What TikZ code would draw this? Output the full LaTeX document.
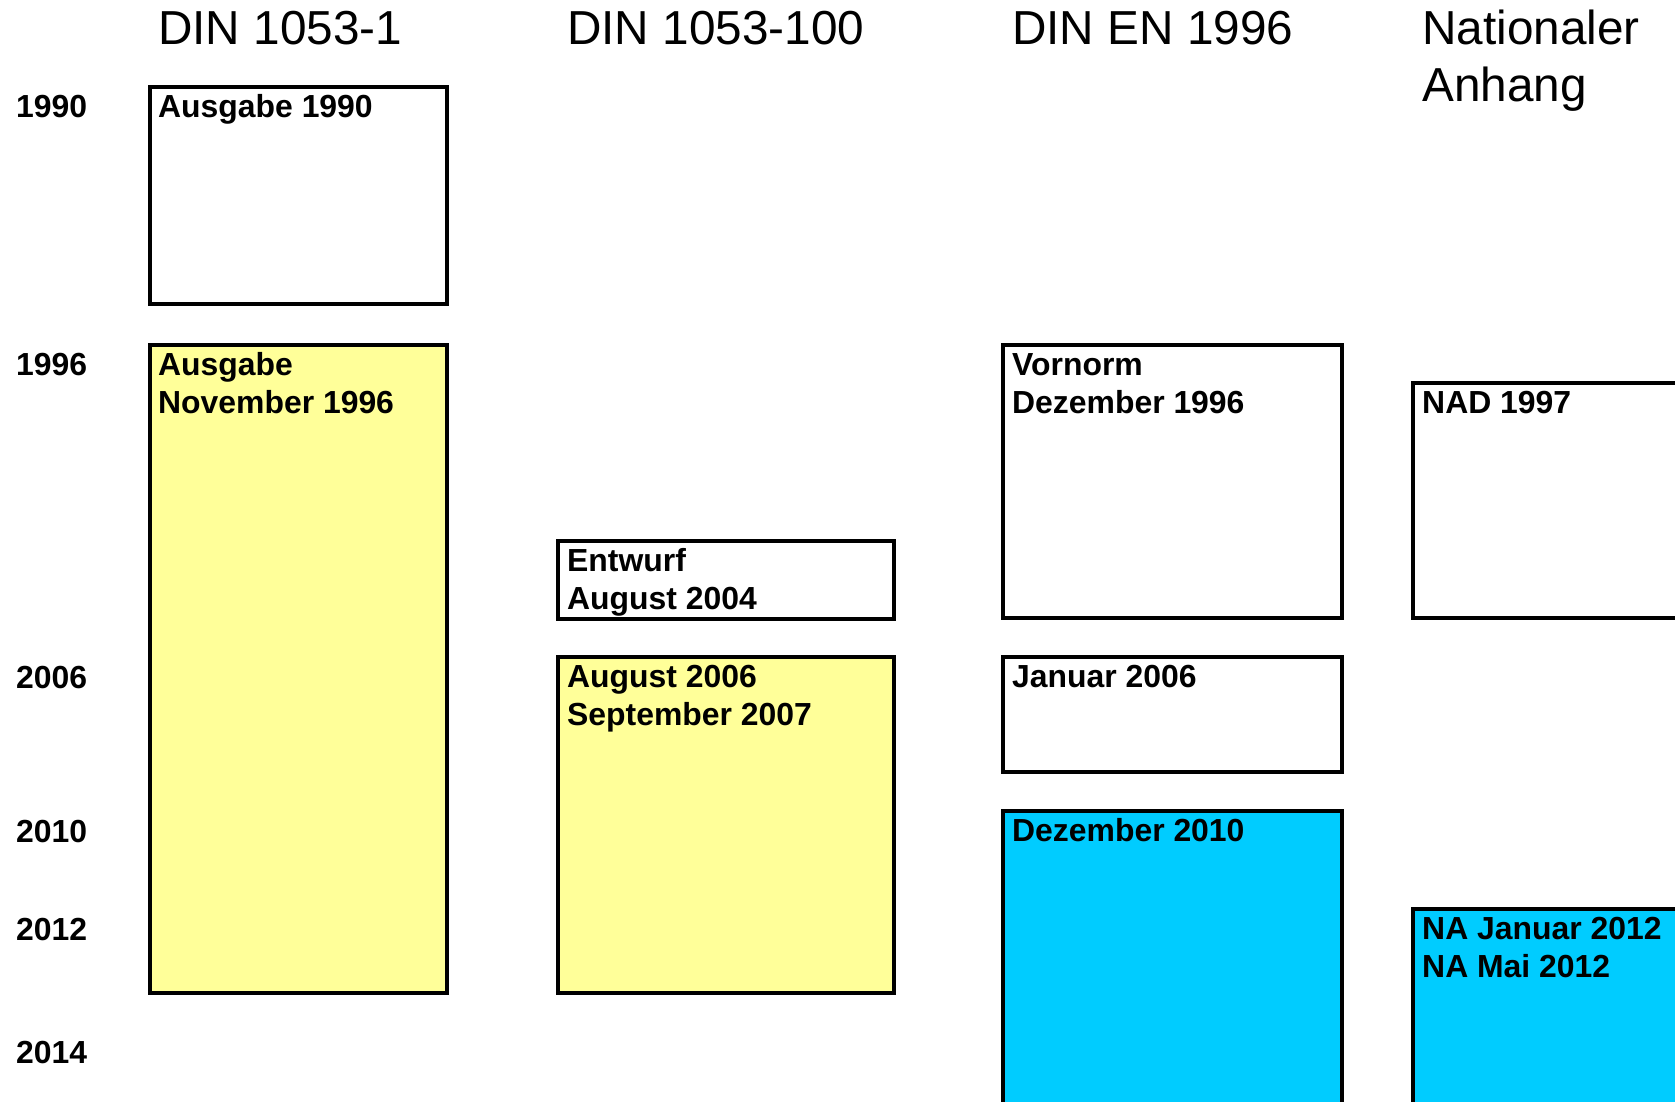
\documentclass[tikz,border=0pt]{standalone}
\usepackage{fontspec}
\setmainfont{Liberation Sans}
\definecolor{lightyel}{HTML}{FFFF99}
\definecolor{skyc}{HTML}{00CCFF}
\begin{document}
\begin{tikzpicture}[x=1pt,y=-1pt,
  box/.style={draw=black,line width=3.3pt,fill=white},
  ybox/.style={box,fill=lightyel},
  cbox/.style={box,fill=skyc},
  lbl/.style={anchor=base west,inner sep=0pt,font=\fontsize{31.9}{38}\selectfont\bfseries},
  yearlbl/.style={lbl},
  head/.style={anchor=base west,inner sep=0pt,font=\fontsize{47.7}{56}\selectfont}]
\useasboundingbox (0,0) rectangle (1675,1101);
\clip (0,0) rectangle (1675,1101);
\fill[white] (0,0) rectangle (1675,1101);
% headers
\node[head] (h1) at (158,44) {DIN 1053-1};
\node[head] (h2) at (567,44) {DIN 1053-100};
\node[head] (h3) at (1012,44) {DIN EN 1996};
\node[head] (h4a) at (1422,44) {Nationaler};
\node[head] (h4b) at (1422,101) {Anhang};
% years
\node[yearlbl] (y1990) at (16,117) {1990};
\node[yearlbl] (y1996) at (16,375) {1996};
\node[yearlbl] (y2006) at (16,688) {2006};
\node[yearlbl] (y2010) at (16,842) {2010};
\node[yearlbl] (y2012) at (16,940) {2012};
\node[yearlbl] (y2014) at (16,1063) {2014};
% boxes
\draw[box] (150,87) rectangle (447,304) coordinate (bA);
\draw[ybox] (150,345) rectangle (447,993) coordinate (bB);
\draw[box] (558,541) rectangle (894,619) coordinate (bC);
\draw[ybox] (558,657) rectangle (894,993) coordinate (bD);
\draw[box] (1003,345) rectangle (1342,618) coordinate (bE);
\draw[box] (1003,657) rectangle (1342,772) coordinate (bF);
\draw[cbox] (1003,811) rectangle (1342,1130) coordinate (bG);
\draw[box] (1413,383) rectangle (1700,618) coordinate (bH);
\draw[cbox] (1413,909) rectangle (1700,1130) coordinate (bI);
% box texts
\node[lbl] (tA) at (158,117) {Ausgabe 1990};
\node[lbl] (tB1) at (158,375) {Ausgabe};
\node[lbl] (tB2) at (158,413) {November 1996};
\node[lbl] (tC1) at (567,571) {Entwurf};
\node[lbl] (tC2) at (567,609) {August 2004};
\node[lbl] (tD1) at (567,687) {August 2006};
\node[lbl] (tD2) at (567,725) {September 2007};
\node[lbl] (tE1) at (1012,375) {Vornorm};
\node[lbl] (tE2) at (1012,413) {Dezember 1996};
\node[lbl] (tF) at (1012,687) {Januar 2006};
\node[lbl] (tG) at (1012,841) {Dezember 2010};
\node[lbl] (tH) at (1422,413) {NAD 1997};
\node[lbl] (tI1) at (1422,939) {NA Januar 2012};
\node[lbl] (tI2) at (1422,977) {NA Mai 2012};
\end{tikzpicture}
\end{document}
